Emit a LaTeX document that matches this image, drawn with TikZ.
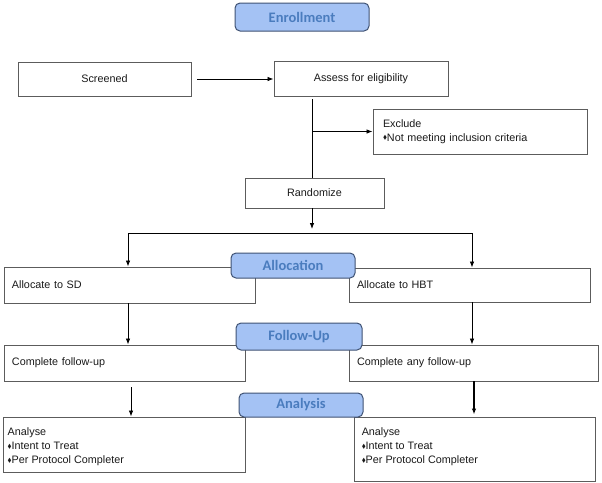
\documentclass[tikz,border=0pt]{standalone}
\usepackage{amssymb}
\usepackage{fontspec}
\setmainfont{Liberation Sans}
\newfontfamily\phasefont{Carlito}
\usetikzlibrary{arrows.meta}

\definecolor{phasefill}{HTML}{A4C2F4}
\definecolor{phasedraw}{HTML}{3F5273}
\definecolor{phasetext}{HTML}{4A7CBE}
\definecolor{boxline}{HTML}{5C5C5C}
\definecolor{boxtext}{HTML}{1A1A1A}

\newcommand{\bul}{\raisebox{0.25ex}{\scalebox{0.55}{$\blacklozenge$}}}

\tikzset{
  box/.style={draw=boxline, line width=0.9pt, fill=white, inner sep=0pt,
    text=boxtext, font=\fontsize{10.8}{14}\selectfont},
  lbox/.style={box, align=left, inner xsep=8pt},
  btext/.style={anchor=north west, align=left, inner sep=0pt,
    text=boxtext, font=\fontsize{10.8}{14}\selectfont},
  phase/.style={draw=phasedraw, fill=phasefill, line width=1pt, rounded corners=5pt,
    text=phasetext, font=\phasefont\bfseries\fontsize{14.5}{16}\selectfont},
  line/.style={line width=0.8pt},
  arr/.style={line, -{Latex[length=6pt,width=4.5pt]}}
}

\begin{document}
\begin{tikzpicture}[x=1pt,y=-1pt]
    \useasboundingbox (0,0) rectangle (602,482);
    % boxes
    \node[box, minimum width=173, minimum height=34] (scr) at (104.5,79) {Screened};
    \node[box, minimum width=174, minimum height=35] (ass) at (361,78.5) {Assess for eligibility};
    \node[lbox, inner xsep=10pt, text width=194, minimum height=45] (excl) at (480,131.5)
        {Exclude\\\bul Not meeting inclusion criteria};
    \node[box, minimum width=139, minimum height=30] (rand) at (314.5,193) {Randomize};
    \node[lbox, text width=235, minimum height=36] (sd) at (129.5,285) {Allocate to SD};
    \node[lbox, text width=225, minimum height=34] (hbt) at (469.5,285) {Allocate to HBT};
    \node[lbox, text width=225, minimum height=36] (cfu) at (124.5,363) {Complete follow-up};
    \node[lbox, text width=233, minimum height=36] (cafu) at (473.5,363) {Complete any follow-up};
    \node[box, minimum width=242, minimum height=55] (ana1) at (124,444.5) {};
    \node[box, minimum width=241, minimum height=64] (ana2) at (474.5,449) {};
    \node[btext] (ana1txt) at ([xshift=5pt,yshift=-11pt]ana1.north west)
        {Analyse\\\bul Intent to Treat\\\bul Per Protocol Completer};
    \node[btext] (ana2txt) at ([xshift=8pt,yshift=-11pt]ana2.north west)
        {Analyse\\\bul Intent to Treat\\\bul Per Protocol Completer};

    % connectors
    \coordinate (trunk) at (312,99);
    \coordinate (split) at (312,233);
    \draw[arr, shorten <=6pt] (scr.east) -- (scr.east -| ass.west);
    \draw[line] (trunk) -- (trunk |- rand.north);
    \draw[arr] (trunk |- excl.west) -- (excl.west);
    \draw[arr] (rand.south -| split) -- ([yshift=4pt]split);
    \draw[line] (split) -- ([xshift=-1.5pt]split -| sd.north);
    \draw[line] (split) -- ([xshift=2.5pt]split -| hbt.north);
    \draw[arr] ([xshift=-1.5pt]split -| sd.north) -- ([xshift=-1.5pt]sd.north);
    \draw[arr] ([xshift=2.5pt]split -| hbt.north) -- ([xshift=2.5pt]hbt.north);
    \draw[arr] ([xshift=-1.5pt]sd.south) -- ([xshift=-1.5pt]sd.south |- cfu.north);
    \draw[arr] ([xshift=2.5pt]hbt.south) -- ([xshift=2.5pt]hbt.south |- cafu.north);
    \draw[arr] ([xshift=6.5pt,yshift=-6pt]cfu.south) -- ([xshift=6.5pt]cfu.south |- ana1.north);
    \draw[arr, line width=1.2pt] ([xshift=0.5pt]cafu.south) -- ([xshift=0.5pt,yshift=2pt]cafu.south |- ana2.north);

    % phase labels
    \node[phase, minimum width=134, minimum height=28] (enr) at (302,17) {Enrollment};
    \node[phase, minimum width=124, minimum height=25] (alc) at (293,265.5) {Allocation};
    \node[phase, minimum width=126, minimum height=27] (fol) at (299,336.5) {Follow-Up};
    \node[phase, minimum width=124, minimum height=24] (anl) at (301,405) {Analysis};
\end{tikzpicture}
\end{document}
